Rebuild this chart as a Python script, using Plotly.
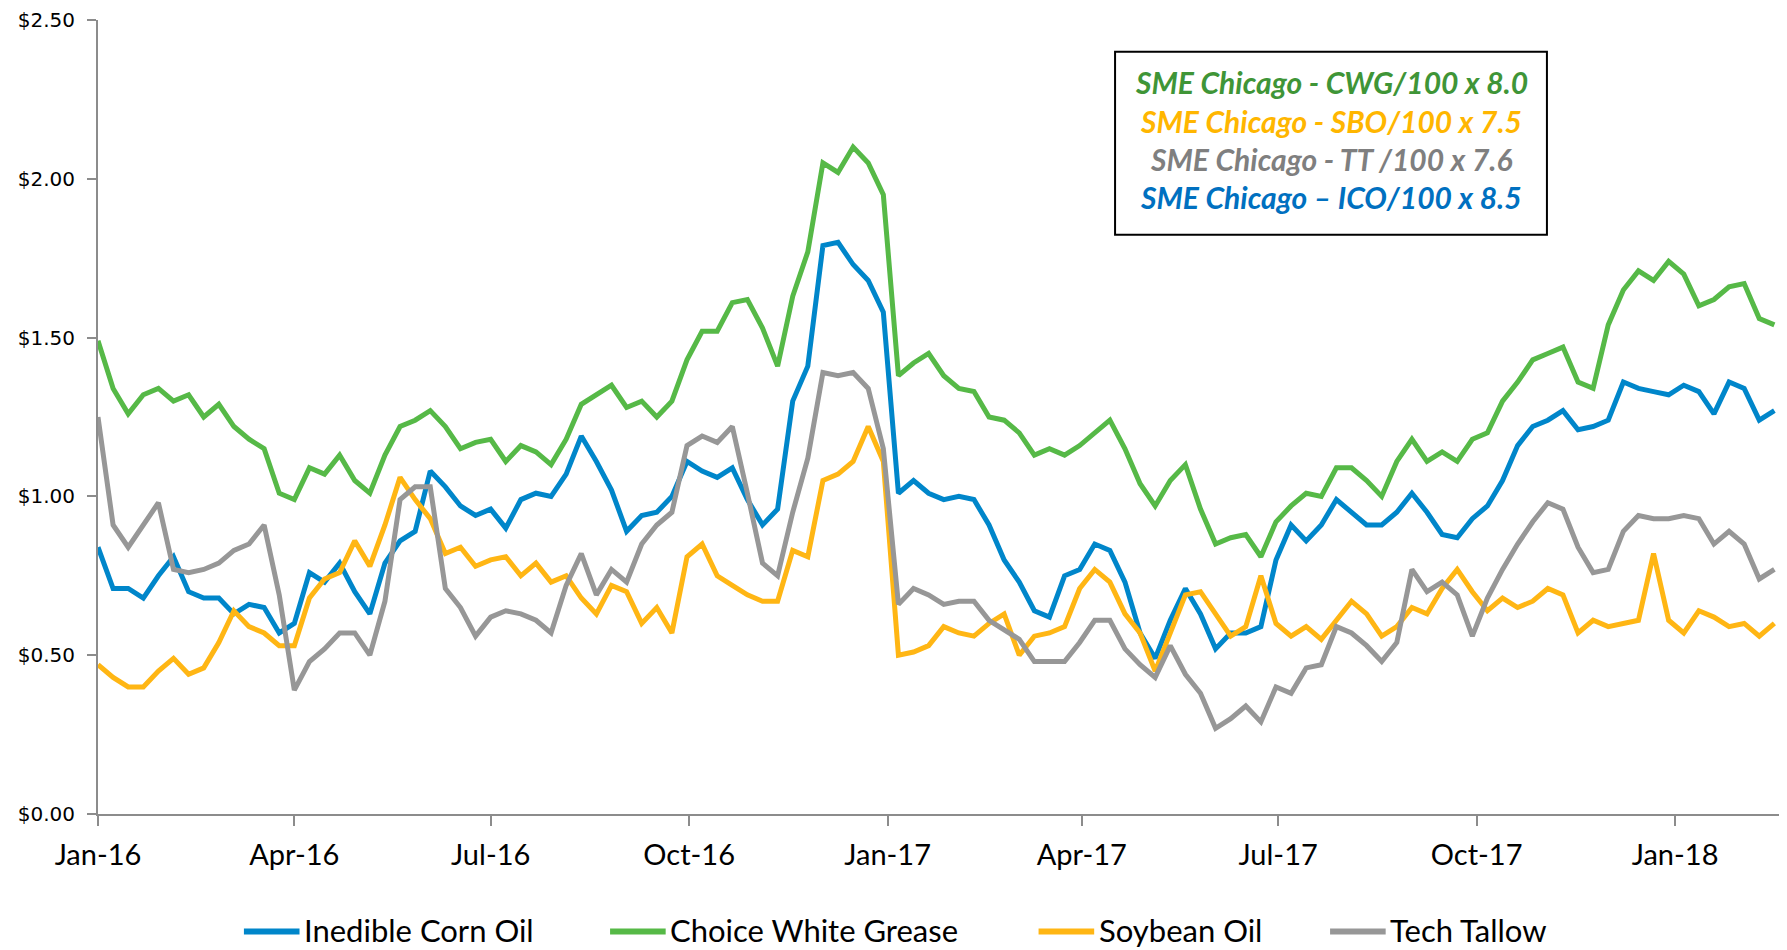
import pandas as pd
import plotly.graph_objects as go

# weekly readings, Jan-2016 .. Feb-2018
dates = pd.date_range("2016-01-01", periods=112, freq="7D")

corn_oil = [0.84, 0.71, 0.71, 0.68, 0.75, 0.81, 0.70, 0.68, 0.68, 0.63, 0.66, 0.65, 0.57, 0.60, 0.76, 0.73, 0.79, 0.70, 0.63, 0.79,
            0.86, 0.89, 1.08, 1.03, 0.97, 0.94, 0.96, 0.90, 0.99, 1.01, 1.00, 1.07, 1.19, 1.11, 1.02, 0.89, 0.94, 0.95, 1.00, 1.11,
            1.08, 1.06, 1.09, 0.99, 0.91, 0.96, 1.30, 1.41, 1.79, 1.80, 1.73, 1.68, 1.58, 1.01, 1.05, 1.01, 0.99, 1.00, 0.99,
            0.91, 0.80, 0.73, 0.64, 0.62, 0.75, 0.77, 0.85, 0.83, 0.73, 0.57, 0.49, 0.61, 0.71, 0.63, 0.52, 0.57, 0.57, 0.59, 0.80,
            0.91, 0.86, 0.91, 0.99, 0.95, 0.91, 0.91, 0.95, 1.01, 0.95, 0.88, 0.87, 0.93, 0.97,
            1.05, 1.16, 1.22, 1.24, 1.27, 1.21, 1.22, 1.24, 1.36, 1.34, 1.33, 1.32, 1.35, 1.33, 1.26, 1.36, 1.34, 1.24, 1.27]

white_grease = [1.49, 1.34, 1.26, 1.32, 1.34, 1.30, 1.32, 1.25, 1.29, 1.22, 1.18, 1.15, 1.01, 0.99, 1.09, 1.07, 1.13, 1.05, 1.01, 1.13,
                1.22, 1.24, 1.27, 1.22, 1.15, 1.17, 1.18, 1.11, 1.16, 1.14, 1.10, 1.18, 1.29, 1.32, 1.35, 1.28, 1.30, 1.25, 1.30, 1.43,
                1.52, 1.52, 1.61, 1.62, 1.53, 1.41, 1.63, 1.77, 2.05, 2.02, 2.10, 2.05, 1.95, 1.38, 1.42, 1.45, 1.38, 1.34, 1.33,
                1.25, 1.24, 1.20, 1.13, 1.15, 1.13, 1.16, 1.20, 1.24, 1.15, 1.04, 0.97, 1.05, 1.10, 0.96, 0.85, 0.87, 0.88, 0.81, 0.92,
                0.97, 1.01, 1.00, 1.09, 1.09, 1.05, 1.00, 1.11, 1.18, 1.11, 1.14, 1.11, 1.18, 1.20,
                1.30, 1.36, 1.43, 1.45, 1.47, 1.36, 1.34, 1.54, 1.65, 1.71, 1.68, 1.74, 1.70, 1.60, 1.62, 1.66, 1.67, 1.56, 1.54]

soybean_oil = [0.47, 0.43, 0.40, 0.40, 0.45, 0.49, 0.44, 0.46, 0.54, 0.64, 0.59, 0.57, 0.53, 0.53, 0.68, 0.74, 0.76, 0.86, 0.78, 0.91,
               1.06, 0.99, 0.93, 0.82, 0.84, 0.78, 0.80, 0.81, 0.75, 0.79, 0.73, 0.75, 0.68, 0.63, 0.72, 0.70, 0.60, 0.65, 0.57, 0.81,
               0.85, 0.75, 0.72, 0.69, 0.67, 0.67, 0.83, 0.81, 1.05, 1.07, 1.11, 1.22, 1.11, 0.50, 0.51, 0.53, 0.59, 0.57, 0.56,
               0.60, 0.63, 0.50, 0.56, 0.57, 0.59, 0.71, 0.77, 0.73, 0.63, 0.57, 0.45, 0.57, 0.69, 0.70, 0.63, 0.56, 0.59, 0.75, 0.60,
               0.56, 0.59, 0.55, 0.61, 0.67, 0.63, 0.56, 0.59, 0.65, 0.63, 0.71, 0.77, 0.70, 0.64,
               0.68, 0.65, 0.67, 0.71, 0.69, 0.57, 0.61, 0.59, 0.60, 0.61, 0.82, 0.61, 0.57, 0.64, 0.62, 0.59, 0.60, 0.56, 0.60]

tech_tallow = [1.25, 0.91, 0.84, 0.91, 0.98, 0.77, 0.76, 0.77, 0.79, 0.83, 0.85, 0.91, 0.69, 0.39, 0.48, 0.52, 0.57, 0.57, 0.50, 0.67,
               0.99, 1.03, 1.03, 0.71, 0.65, 0.56, 0.62, 0.64, 0.63, 0.61, 0.57, 0.72, 0.82, 0.69, 0.77, 0.73, 0.85, 0.91, 0.95, 1.16,
               1.19, 1.17, 1.22, 1.01, 0.79, 0.75, 0.95, 1.12, 1.39, 1.38, 1.39, 1.34, 1.15, 0.66, 0.71, 0.69, 0.66, 0.67, 0.67,
               0.61, 0.58, 0.55, 0.48, 0.48, 0.48, 0.54, 0.61, 0.61, 0.52, 0.47, 0.43, 0.53, 0.44, 0.38, 0.27, 0.30, 0.34, 0.29, 0.40,
               0.38, 0.46, 0.47, 0.59, 0.57, 0.53, 0.48, 0.54, 0.77, 0.70, 0.73, 0.69, 0.56, 0.68,
               0.77, 0.85, 0.92, 0.98, 0.96, 0.84, 0.76, 0.77, 0.89, 0.94, 0.93, 0.93, 0.94, 0.93, 0.85, 0.89, 0.85, 0.74, 0.77]

series_names = ["Inedible Corn Oil", "Choice White Grease", "Soybean Oil", "Tech Tallow"]
series_colors = ["#0086CA", "#56B947", "#FFB614", "#979797"]

box_lines = ["SME Chicago - CWG/100 x 8.0", "SME Chicago - SBO/100 x 7.5",
             "SME Chicago - TT /100 x 7.6", "SME Chicago \u2013 ICO/100 x 8.5"]
box_colors = ["#3F9537", "#FFB600", "#7F7F7F", "#0070C0"]

fig = go.Figure()
for name, vals, col in zip(series_names, [corn_oil, white_grease, soybean_oil, tech_tallow], series_colors):
    fig.add_trace(go.Scatter(x=dates, y=vals, mode="lines", name=name, showlegend=False,
                             line=dict(color=col, width=5)))

# text box top right
fig.add_shape(type="rect", xref="paper", yref="paper", x0=0.6036, x1=0.8599, y0=0.7296, y1=0.960,
              line=dict(color="black", width=2), fillcolor="white", layer="above")
box_y = [0.9215, 0.8733, 0.8250, 0.7766]
for txt, col, yy in zip(box_lines, box_colors, box_y):
    fig.add_annotation(x=0.7318, y=yy, xref="paper", yref="paper", xanchor="center", yanchor="middle",
                       text="<b><i>" + txt + "</i></b>", showarrow=False,
                       font=dict(family="Lato", size=30, color=col))

# legend under the chart (swatch, label)
leg_x = [0.0866, 0.3039, 0.5582, 0.7312]
for name, col, lx in zip(series_names, series_colors, leg_x):
    fig.add_shape(type="line", xref="paper", yref="paper", x0=lx, x1=lx + 0.033, y0=-0.148, y1=-0.148,
                  line=dict(color=col, width=6))
    fig.add_annotation(x=lx + 0.0345, y=-0.146, xref="paper", yref="paper", xanchor="left", yanchor="middle",
                       text=name, showarrow=False, font=dict(family="Lato", size=31, color="black"))

axis_grey = "#8C8C8C"
fig.update_xaxes(range=["2016-01-01", "2018-02-20"], tick0="2016-01-01", dtick="M3", tickformat="%b-%y",
                 showgrid=False, zeroline=False, showline=True, linecolor=axis_grey, linewidth=2,
                 ticks="outside", ticklen=10, tickwidth=1.5, tickcolor=axis_grey, ticklabelstandoff=4,
                 tickfont=dict(family="Lato", size=29, color="black"), automargin=False)
fig.update_yaxes(range=[0, 2.5], dtick=0.5, tickformat="$.2f",
                 showgrid=False, zeroline=False, showline=True, linecolor=axis_grey, linewidth=2,
                 ticks="outside", ticklen=9, tickwidth=1.5, tickcolor=axis_grey, ticklabelstandoff=8,
                 ticklabeloverflow="allow",
                 tickfont=dict(family="DejaVu Sans", size=20, color="black"), automargin=False)

# page puts the plot 8px in from the top-left corner, so size the figure to fit
fig.update_layout(
    width=1779, height=942,
    margin=dict(l=90, r=4, t=12, b=136),
    plot_bgcolor="white", paper_bgcolor="white",
    showlegend=False,
    hovermode=False,
)

fig.write_html("out.html")
